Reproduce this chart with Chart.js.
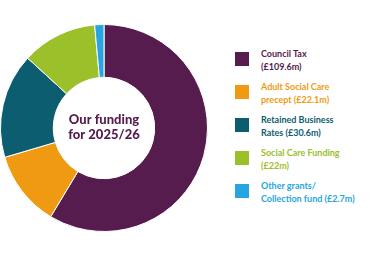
<!DOCTYPE html>
<html>
<head>
<meta charset="utf-8">
<script src="https://cdn.jsdelivr.net/npm/chart.js@4"></script>
<style>
  html, body { margin: 0; padding: 0; background: #fff; }
  body { width: 380px; height: 254px; position: relative; overflow: hidden; font-family: Lato, "Open Sans", sans-serif; }
  #wrap { position: absolute; left: 0; top: 24px; width: 208px; height: 208px; }
  #legend { position: absolute; left: 235px; top: 48px; }
  .item { position: relative; height: 33px; }
  .box { position: absolute; left: 0; top: 4px; width: 14px; height: 14px; }
  .txt { position: absolute; left: 26px; top: 0; font-size: 9px; font-weight: 700; line-height: 12.5px; white-space: nowrap; }
</style>
</head>
<body>
<div id="wrap"><canvas id="donut"></canvas></div>
<div id="legend"></div>
<script>
const names = ["Council Tax", "Adult Social Care precept", "Retained Business Rates", "Social Care Funding", "Other grants/ Collection fund"];
const lines = [
  ["Council Tax", "(£109.6m)"],
  ["Adult Social Care", "precept (£22.1m)"],
  ["Retained Business", "Rates (£30.6m)"],
  ["Social Care Funding", "(£22m)"],
  ["Other grants/", "Collection fund (£2.7m)"]
];
const values = [109.6, 22.1, 30.6, 22, 2.7];
const colours = ["#561c4e", "#ef9a12", "#0c5d6f", "#9bc02a", "#28a5e0"];
const centreText = ["Our funding", "for 2025/26"];

// legend built from the arrays
const legend = document.getElementById("legend");
names.forEach((n, i) => {
  const item = document.createElement("div");
  item.className = "item";
  item.innerHTML = '<div class="box" style="background:' + colours[i] + '"></div>' +
    '<div class="txt" style="color:' + colours[i] + '">' + lines[i].join("<br>") + '</div>';
  legend.appendChild(item);
});

const centreLabel = {
  id: "centreLabel",
  afterDraw(chart) {
    const arc = chart.getDatasetMeta(0).data[0];
    const ctx = chart.ctx;
    ctx.save();
    ctx.fillStyle = "#561c4e";
    ctx.font = "900 13px Lato, 'Open Sans', sans-serif";
    ctx.textAlign = "center";
    ctx.textBaseline = "middle";
    ctx.fillText(centreText[0], arc.x, arc.y - 8);
    ctx.fillText(centreText[1], arc.x, arc.y + 7);
    ctx.restore();
  }
};

new Chart(document.getElementById("donut"), {
  type: "doughnut",
  data: {
    labels: names,
    datasets: [{
      data: values,
      backgroundColor: colours,
      borderColor: "#fff",
      borderWidth: 1
    }]
  },
  options: {
    responsive: true,
    maintainAspectRatio: false,
    animation: false,
    cutout: "49%",
    plugins: {
      legend: { display: false },
      tooltip: { enabled: false }
    }
  },
  plugins: [centreLabel]
});
</script>
</body>
</html>
